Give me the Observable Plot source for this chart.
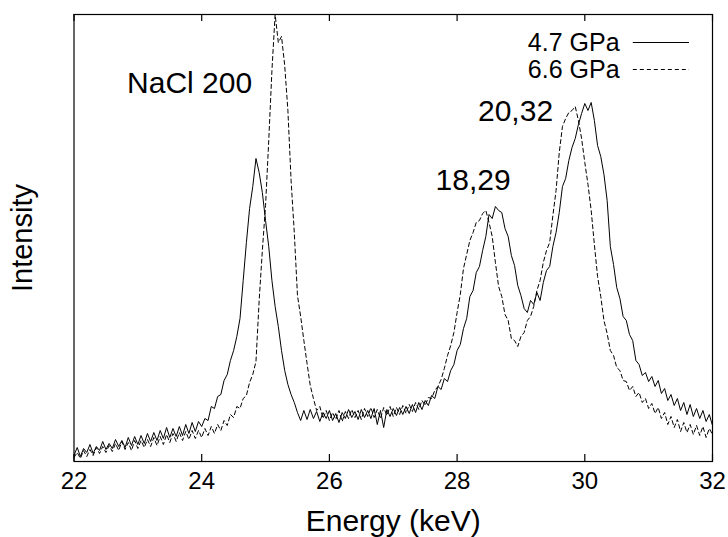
<!DOCTYPE html>
<html>
<head>
<meta charset="utf-8">
<script src="https://cdn.jsdelivr.net/npm/d3@7"></script>
<script src="https://cdn.jsdelivr.net/npm/@observablehq/plot@0.6"></script>
<style>
  html, body { margin: 0; padding: 0; background: #fff; }
  #chart { width: 728px; height: 537px; }
</style>
</head>
<body>
<div id="chart"></div>
<script>
// ---------- DATA ----------
const seriesNames = ["4.7 GPa", "6.6 GPa"];
const energyStart = 22;      // keV, first channel
const energyStep = 0.05;     // keV per sample
const xTicks = [22, 24, 26, 28, 30, 32];
const xLabel = "Energy (keV)";
const yLabel = "Intensity";

// Intensity (arbitrary units), 4.7 GPa
const intensity47 = [
  6,14,5,13,9,17,8,15,11,20,
  12,18,13,22,15,21,14,24,16,25,
  17,26,18,28,20,29,21,31,23,34,
  24,33,25,35,26,37,28,39,30,40,
  35,43,41,55,53,65,67,81,87,101,
  111,125,143,181,219,253,275,303,289,269,
  241,215,181,155,135,111,91,77,67,59,
  49,41,51,42,52,43,50,40,49,43,
  51,41,48,39,49,43,52,44,50,42,
  52,44,51,43,53,37,51,34,52,45,
  53,46,54,47,55,48,57,49,59,52,
  61,56,66,63,75,72,83,80,91,97,
  111,117,133,143,165,171,189,195,211,225,
  247,243,255,251,249,233,225,206,196,176,
  166,153,149,161,157,169,161,179,191,195,
  215,229,249,275,283,301,314,323,337,348,
  358,351,359,341,316,305,287,261,215,197,
  174,163,145,141,127,121,101,97,86,89,
  80,85,75,81,68,73,61,67,56,63,
  51,59,47,57,45,53,43,51,40,47,
  36
];

// Intensity (arbitrary units), 6.6 GPa
const intensity66 = [
  4,9,3,11,5,12,6,14,8,15,
  9,16,10,18,11,20,12,19,11,21,
  13,21,14,22,15,24,16,25,17,27,
  19,28,20,29,21,30,22,31,23,31,
  24,33,26,35,28,37,31,41,36,47,
  44,55,53,63,66,79,87,100,161,211,
  256,321,391,447,419,425,396,351,281,229,
  166,145,121,98,76,63,51,55,43,51,
  41,49,42,51,40,50,43,52,44,51,
  42,53,45,54,44,52,43,54,46,55,
  45,54,47,56,48,57,50,59,52,61,
  56,64,63,71,75,82,93,106,116,129,
  149,167,193,207,221,229,239,241,248,251,
  239,225,199,175,165,147,141,123,121,115,
  125,129,141,145,155,171,181,199,211,219,
  246,271,309,335,343,349,351,355,341,323,
  299,277,251,217,185,165,141,128,111,106,
  94,91,81,80,71,75,65,69,59,63,
  53,58,48,54,43,49,37,45,34,42,
  30,39,29,37,27,36,26,35,24,33,
  27
];

// Peak annotations
const peakLabels = ["NaCl 200", "18,29", "20,32"];

// ---------- LAYOUT (positions of annotations in data space) ----------
const peakLabelX = [23.81, 28.25, 28.915];
const peakLabelY = [378, 281, 350];
const legendTextX = 30.545;
const legendLineX1 = 30.76, legendLineX2 = 31.64;
const legendY = [419, 392];

const channel = (i) => +(energyStart + i * energyStep).toFixed(2);
const rows = [];
[intensity47, intensity66].forEach((arr, s) => {
  arr.forEach((v, i) => rows.push({series: seriesNames[s], energy: channel(i), intensity: v}));
});
const legendRows = seriesNames.map((name, i) => ({name, y: legendY[i], dashed: i === 1}));
const annRows = peakLabels.map((t, i) => ({t, x: peakLabelX[i], y: peakLabelY[i]}));

const frameH = 461 - 14;

const chart = Plot.plot({
  width: 728,
  height: 537,
  marginLeft: 73.5,
  marginRight: 16,
  marginTop: 14,
  marginBottom: 76,
  style: {fontFamily: "'Liberation Sans', Arial, sans-serif", fontSize: "24px", color: "#000", background: "#fff"},
  x: {domain: [22, 32]},
  y: {domain: [0, 447]},
  marks: [
    Plot.line(rows.filter(d => d.series === seriesNames[0]), {x: "energy", y: "intensity", stroke: "#000", strokeWidth: 1}),
    Plot.line(rows.filter(d => d.series === seriesNames[1]), {x: "energy", y: "intensity", stroke: "#000", strokeWidth: 1, strokeDasharray: "4,3"}),
    // inward ticks at bottom and top
    Plot.tickX(xTicks, {x: d => d, insetTop: frameH - 7, stroke: "#000", strokeWidth: 1.2}),
    Plot.tickX(xTicks, {x: d => d, insetBottom: frameH - 7, stroke: "#000", strokeWidth: 1.2}),
    Plot.axisX({ticks: xTicks, tickSize: 0, tickPadding: 10, fontSize: 24, tickFormat: d => String(d), label: null}),
    Plot.axisY({ticks: [], label: null, tickSize: 0}),
    Plot.frame({stroke: "#000", strokeWidth: 1.2}),
    Plot.text([xLabel], {frameAnchor: "bottom", textAnchor: "middle", lineAnchor: "middle", dy: 59.5, fontSize: 30, fill: "#000"}),
    Plot.text([yLabel], {frameAnchor: "left", textAnchor: "middle", lineAnchor: "middle", dx: -51, rotate: -90, fontSize: 29, fill: "#000"}),
    Plot.text(annRows, {x: "x", y: "y", text: "t", fontSize: 30, fill: "#000"}),
    Plot.text(legendRows, {x: legendTextX, y: "y", text: "name", textAnchor: "end", fontSize: 25, fill: "#000"}),
    Plot.ruleY(legendRows.filter(d => !d.dashed), {y: "y", x1: legendLineX1, x2: legendLineX2, stroke: "#000", strokeWidth: 1}),
    Plot.ruleY(legendRows.filter(d => d.dashed), {y: "y", x1: legendLineX1, x2: legendLineX2, stroke: "#000", strokeWidth: 1, strokeDasharray: "4,3"})
  ]
});
document.getElementById("chart").appendChild(chart);
</script>
</body>
</html>
